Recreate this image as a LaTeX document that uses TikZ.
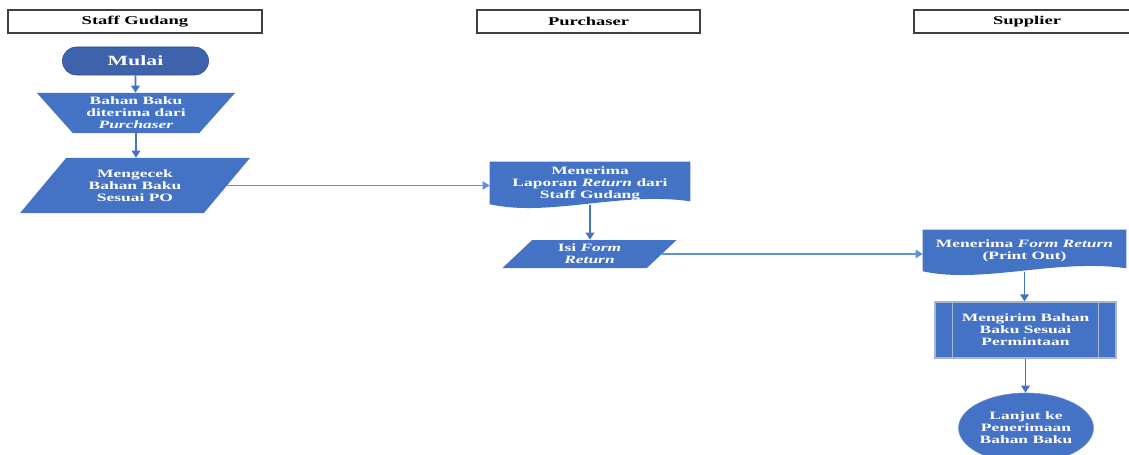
\documentclass[tikz,border=0pt]{standalone}
\usepackage{fontspec}
\setmainfont{Liberation Serif}[FakeStretch=1.55]
\usetikzlibrary{arrows.meta, shapes.geometric, shapes.misc, calc, backgrounds}
\definecolor{boxblue}{HTML}{4472C4}
\definecolor{startblue}{HTML}{3F62AD}
\definecolor{lineblue}{HTML}{6090D8}
\definecolor{sidegray}{HTML}{A7B5D1}
\tikzset{
  lane/.style={draw=black!75, line width=0.9pt, minimum height=0.575cm, inner sep=0pt,
    font=\bfseries\fontsize{8.5}{9}\selectfont},
  shapetext/.style={text=white, align=center, inner sep=1pt,
    font=\bfseries\fontsize{8}{8.6}\selectfont},
  startnode/.style={shapetext, rounded rectangle, fill=startblue, draw=startblue!80!black,
    minimum width=3.725cm, minimum height=0.7cm, font=\bfseries\fontsize{10}{11}\selectfont},
  inputnode/.style={shapetext, trapezium, trapezium stretches=true, fill=boxblue,
    shape border rotate=180, trapezium left angle=50.5, trapezium right angle=50.5,
    minimum width=4.95cm, minimum height=1cm},
  datanode/.style={shapetext, trapezium, trapezium stretches=true, fill=boxblue},
  docnode/.style={shapetext, rectangle},
  procnode/.style={shapetext, rectangle, fill=boxblue, draw=sidegray, line width=0.8pt},
  endnode/.style={shapetext, ellipse, fill=boxblue, draw=boxblue!80!white},
  arr/.style={draw=boxblue, line width=1.3pt, -{Triangle[width=6pt,length=5pt]}},
  conn/.style={draw=lineblue, line width=0.8pt, -{Triangle[width=6pt,length=5pt]}}
}
% document shape filled behind a node
\newcommand{\docfill}[1]{%
  \begin{scope}[on background layer]
    \fill[boxblue] (#1.north west) -- (#1.north east) -- ($(#1.south east)+(0,-4)$)
      .. controls ($(#1.south east)+(-70,-14)$) and ($(#1.south west)+(60,12)$)
      .. ($(#1.south west)+(0,-1)$) -- cycle;
  \end{scope}}

\begin{document}
\begin{tikzpicture}[x=0.025cm, y=-0.025cm]
    \useasboundingbox (0,0) rectangle (1129,454);
    % lanes
    \node[lane, minimum width=6.35cm] (lStaff) at (135,21.5) {Staff Gudang};
    \node[lane, minimum width=5.575cm] (lPurch) at (588.5,21.5) {Purchaser};
    \node[lane, minimum width=5.65cm] (lSupp) at (1027,21.5) {Supplier};
    % staff gudang
    \node[startnode] (mulai) at (135.5,61) {Mulai};
    \node[inputnode] (terima) at (136,113) {Bahan Baku\\diterima dari\\\textit{Purchaser}};
    \node[datanode, trapezium left angle=47.7, trapezium right angle=132.3,
      minimum width=5.75cm, minimum height=1.375cm] (cek) at (135,185.5)
      {Mengecek\\Bahan Baku\\Sesuai PO};
    % purchaser
    \node[docnode, minimum width=5cm, minimum height=1.075cm] (lapor) at (590,183.5)
      {Menerima\\Laporan \textit{Return} dari\\Staff Gudang};
    \docfill{lapor}
    \node[datanode, trapezium left angle=53.1, trapezium right angle=126.9,
      minimum width=4.375cm, minimum height=0.7cm] (isi) at (589.5,254)
      {Isi \textit{Form}\\\textit{Return}};
    % supplier
    \node[docnode, minimum width=5.075cm, minimum height=1.05cm] (form) at (1024.5,251)
      {Menerima \textit{Form Return}\\(Print Out)};
    \docfill{form}
    \node[procnode, minimum width=4.525cm, minimum height=1.4cm] (kirim) at (1025.5,330)
      {Mengirim Bahan\\Baku Sesuai\\Permintaan};
    \draw[sidegray, line width=0.8pt] ($(kirim.north west)+(18,0)$) -- ($(kirim.south west)+(18,0)$);
    \draw[sidegray, line width=0.8pt] ($(kirim.north east)+(-18,0)$) -- ($(kirim.south east)+(-18,0)$);
    \node[endnode, minimum width=2.85cm, minimum height=1.75cm] (lanjut) at (1026,428)
      {Lanjut ke\\Penerimaan\\Bahan Baku};
    % arrows
    \draw[arr] (mulai) -- (mulai |- terima.north);
    \draw[arr] (terima.south) -- (terima.south |- cek.north);
    \draw[conn] (cek.east) -- (cek.east -| lapor.west);
    \draw[arr] (lapor.south) -- (lapor.south |- isi.north);
    \draw[conn] (isi.east) -- (isi.east -| form.west);
    \draw[arr] (form.south) -- (form.south |- kirim.north);
    \draw[arr] (kirim) -- (kirim |- lanjut.north);
\end{tikzpicture}
\end{document}
